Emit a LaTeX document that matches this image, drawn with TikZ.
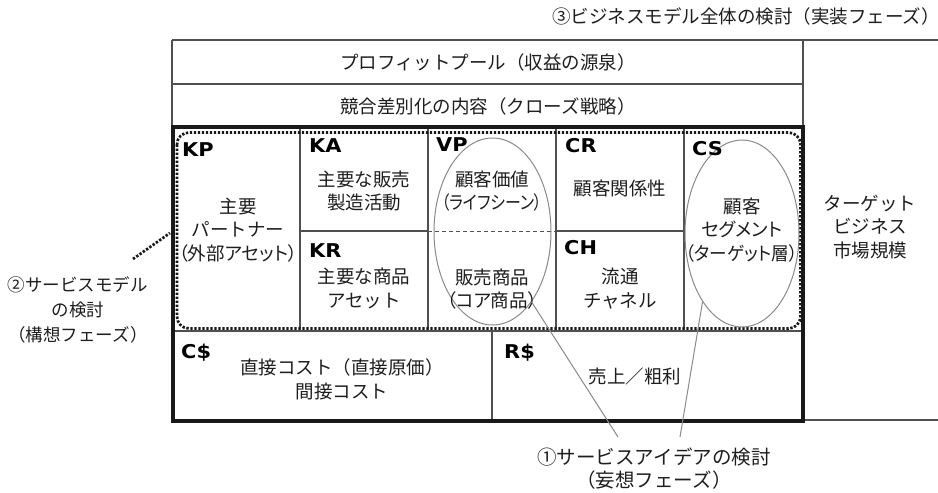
\documentclass[tikz,border=0pt]{standalone}
\usepackage{fontspec}
\usetikzlibrary{shapes.geometric}
\setmainfont{Noto Sans CJK JP}
\newfontfamily\pfont{Noto Sans CJK JP}[RawFeature=+palt]
\newfontfamily\labfont{DejaVu Sans}[FakeStretch=1.1]
\definecolor{linec}{HTML}{505050}
\definecolor{ovalc}{HTML}{8A8A8A}
\definecolor{textc}{HTML}{1E1E1E}
\tikzset{
  gridline/.style={draw=linec, line width=1.3pt},
  thickbox/.style={draw=black!90, line width=3.2pt},
  dotbox/.style={draw=black!90, line width=2.7pt, dash pattern=on 2.4pt off 1.6pt, rounded corners=12pt},
  dashline/.style={draw=linec, line width=1pt, dash pattern=on 4pt off 3pt},
  oval/.style={ellipse, draw=ovalc, line width=1pt, inner sep=0pt},
  leader/.style={draw=ovalc, line width=1pt},
  dotlead/.style={draw=black!90, line width=2.7pt, dash pattern=on 2.4pt off 1.6pt},
  txt/.style={text=textc, align=center, inner sep=0pt, font=\fontsize{18.5pt}{23.5pt}\selectfont},
  lab/.style={text=black, inner sep=0pt, anchor=west, font=\labfont\bfseries\fontsize{19pt}{20pt}\selectfont}
}
\begin{document}
\begin{tikzpicture}[x=1pt, y=-1pt]
\useasboundingbox (0,0) rectangle (938,493);
\fill[white] (0,0) rectangle (938,493);
% outer frame (thin)
\draw[gridline] (172,40) -- (938,40);
\draw[gridline] (172,84) -- (803,84);
\draw[gridline] (172,40) -- (172,127);
\draw[gridline] (803,40) -- (803,421);
\draw[gridline] (803,420) -- (938,420);
% canvas grid
\draw[gridline] (300,127) -- (300,331);
\draw[gridline] (428,127) -- (428,331);
\draw[gridline] (556,127) -- (556,331);
\draw[gridline] (684,127) -- (684,331);
\draw[gridline] (300,231) -- (428,231);
\draw[gridline] (556,231) -- (684,231);
\draw[dashline] (428,231) -- (556,231);
\draw[gridline] (173,331) -- (803,331);
\draw[gridline] (492,331) -- (492,421);
% thick box
\draw[thickbox] (173,127) rectangle (803,421);
% dotted rounded box
\draw[dotbox] (177,132.5) rectangle (800.5,328.5);
% ellipses
\node[oval, minimum width=117pt, minimum height=187pt] (vpe) at (492.5,231.5) {};
\node[oval, minimum width=114pt, minimum height=187pt] (cse) at (742,233.5) {};
% header rows
\node[txt] (profit) at (488,62) {プロフィットプール（収益の源泉）};
\node[txt] (diff) at (488,106) {競合差別化の内容（クローズ戦略）};
\node[txt] (phase3) at (746,16) {③ビジネスモデル全体の検討（実装フェーズ）};
% block labels
\node[lab] (kp) at (182,150) {KP};
\node[lab] (ka) at (309,146) {KA};
\node[lab] (vp) at (436,145) {VP};
\node[lab] (cr) at (565,146) {CR};
\node[lab] (cs) at (692,149) {CS};
\node[lab] (kr) at (309,251) {KR};
\node[lab] (ch) at (564,248) {CH};
\node[lab] (cost) at (181,353) {C\$};
\node[lab] (rev) at (504,353) {R\$};
% cell texts
\node[txt] (kpt) at (238,230) {主要\\パートナー\\{\pfont （外部アセット）}};
\node[txt] (kat) at (364,191) {主要な販売\\製造活動};
\node[txt] (krt) at (364,288.5) {主要な商品\\アセット};
\node[txt] (vpt1) at (492,191) {顧客価値\\\scalebox{0.86}[1]{\pfont （ライフシーン）}};
\node[txt] (vpt2) at (492,289) {販売商品\\{\pfont （コア商品）}};
\node[txt] (crt) at (620,188) {顧客関係性};
\node[txt] (cht) at (620,288.5) {流通\\チャネル};
\node[txt] (cst) at (742,230) {顧客\\{\pfont セグメント}\\\scalebox{0.95}[1]{\pfont （ターゲット層）}};
\node[txt] (mkt) at (870,227) {ターゲット\\ビジネス\\市場規模};
\node[txt] (costt) at (342,379.5) {直接コスト（直接原価）\\間接コスト};
\node[txt] (revt) at (635,376) {売上／粗利};
% phase labels
\node[txt, font=\fontsize{17.5pt}{25pt}\selectfont] (phase2) at (78,310) {②サービスモデル\\の検討\\（構想フェーズ）};
\node[txt, font=\fontsize{19.5pt}{23pt}\selectfont] (phase1) at (654,468.5) {①サービスアイデアの検討\\（妄想フェーズ）};
% leaders
\coordinate (d1) at (133,259);
\coordinate (d2) at (170,233);
\draw[dotlead] (d1) -- (d2);
\coordinate (c1) at (618,437);
\coordinate (c2) at (680,437);
\draw[leader] (vpe.-61) -- (c1);
\draw[leader] (cse.240) -- (c2);
\end{tikzpicture}
\end{document}
